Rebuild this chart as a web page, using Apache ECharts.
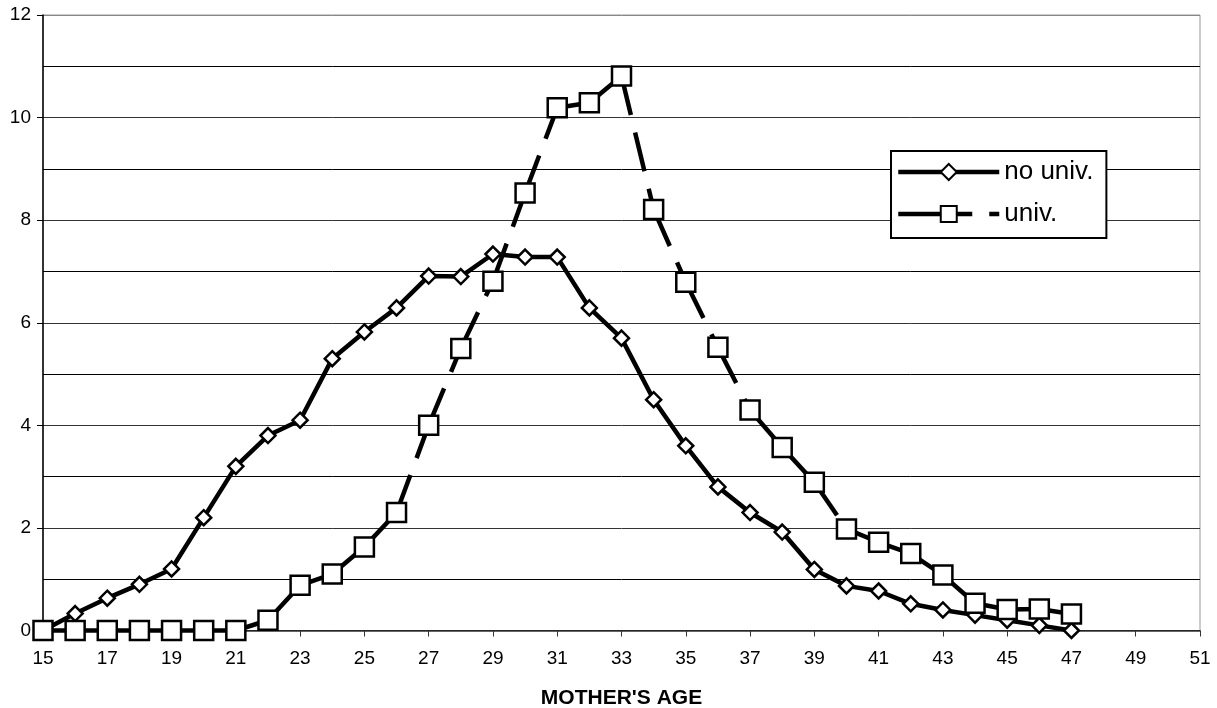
<!DOCTYPE html>
<html>
<head>
<meta charset="utf-8">
<script src="https://cdn.jsdelivr.net/npm/echarts@6/dist/echarts.min.js"></script>
<style>
html,body{margin:0;padding:0;background:#fff;}
#chart{width:1217px;height:708px;}
</style>
</head>
<body>
<div id="chart"></div>
<script>
// x-axis categories (mother's age)
var ages = ['15','16','17','18','19','20','21','22','23','24','25','26','27','28','29','30','31','32','33','34','35','36','37','38','39','40','41','42','43','44','45','46','47','48','49','50','51'];
// no university (ages 15..47)
var noUniv = [0, 0.33, 0.63, 0.9, 1.2, 2.2, 3.2, 3.8, 4.1, 5.3, 5.82, 6.29, 6.91, 6.9, 7.34, 7.28, 7.28, 6.29, 5.7, 4.5, 3.6, 2.8, 2.3, 1.92, 1.19, 0.87, 0.77, 0.52, 0.4, 0.3, 0.2, 0.1, 0];
// university (ages 15..47)
var univ = [0, 0, 0, 0, 0, 0, 0, 0.2, 0.88, 1.1, 1.63, 2.3, 4.0, 5.5, 6.81, 8.53, 10.19, 10.29, 10.81, 8.21, 6.79, 5.52, 4.3, 3.57, 2.89, 1.98, 1.72, 1.5, 1.08, 0.53, 0.41, 0.42, 0.32];
var yTicks = [0, 2, 4, 6, 8, 10, 12];

// segments for the dashed "univ." line (dash pattern restarts at each point)
var univSegments = [];
for (var i = 0; i < univ.length - 1; i++) {
  univSegments.push([i, univ[i], i + 1, univ[i + 1]]);
}

var FONT = '"Liberation Sans", Arial, sans-serif';
var LW = 4.5;
var chart = echarts.init(document.getElementById('chart'));
chart.setOption({
  animation: false,
  backgroundColor: '#fff',
  grid: {
    left: 43, right: 17, top: 15, bottom: 77.5,
    outerBoundsMode: 'none',
    containLabel: false,
    show: true, borderColor: '#999', borderWidth: 1, backgroundColor: 'transparent'
  },
  legend: {
    left: 891, top: 151,
    orient: 'vertical',
    selectedMode: false,
    itemWidth: 101, itemHeight: 20, itemGap: 16,
    padding: [8, 13, 11, 5],
    borderColor: '#000', borderWidth: 2, backgroundColor: '#fff',
    textStyle: { fontFamily: FONT, fontSize: 26, color: '#000' },
    data: [
      { name: 'no univ.', lineStyle: { width: LW, color: '#000', opacity: 1, type: 'solid' } },
      { name: 'univ.', lineStyle: { width: LW, color: '#000', opacity: 1, type: [74, 17, 10, 100] } }
    ]
  },
  xAxis: {
    type: 'category',
    data: ages,
    boundaryGap: false,
    name: "MOTHER'S AGE",
    nameLocation: 'middle',
    nameGap: 57.5,
    nameTextStyle: { fontFamily: FONT, fontSize: 21, fontWeight: 'bold', color: '#000' },
    axisLine: { lineStyle: { color: '#333', width: 1.5 } },
    axisTick: { show: true, interval: 1, length: 6, lineStyle: { color: '#333' } },
    axisLabel: { interval: 1, margin: 18.5, fontFamily: FONT, fontSize: 19, color: '#000' },
    splitLine: { show: false }
  },
  yAxis: {
    type: 'value',
    min: yTicks[0], max: yTicks[yTicks.length - 1], interval: 2,
    axisLine: { show: true, lineStyle: { color: '#000', width: 1.5 } },
    axisTick: { show: true, length: 6, lineStyle: { color: '#000' } },
    axisLabel: { margin: 12, fontFamily: FONT, fontSize: 19, color: '#000' },
    splitLine: { show: true, lineStyle: { color: ['#000', '#333', '#333', '#333', '#333', '#333', '#888'], width: 1 } },
    minorTick: { show: false, splitNumber: 2 },
    minorSplitLine: { show: true, lineStyle: { color: '#000', width: 1 } }
  },
  series: [
    {
      name: 'no univ.',
      type: 'line',
      data: noUniv,
      z: 2,
      symbol: 'diamond',
      symbolSize: 15,
      showAllSymbol: true,
      lineStyle: { color: '#000', width: LW },
      itemStyle: { color: '#fff', borderColor: '#000', borderWidth: 2.5 }
    },
    {
      name: 'univ-dash',
      type: 'custom',
      data: univSegments,
      z: 3,
      encode: { x: [0, 2], y: [1, 3] },
      renderItem: function (params, api) {
        var p0 = api.coord([api.value(0), api.value(1)]);
        var p1 = api.coord([api.value(2), api.value(3)]);
        return {
          type: 'line',
          shape: { x1: p0[0], y1: p0[1], x2: p1[0], y2: p1[1] },
          style: { stroke: '#000', lineWidth: LW, lineDash: [40, 18], lineCap: 'butt' }
        };
      }
    },
    {
      name: 'univ.',
      type: 'line',
      data: univ,
      z: 4,
      symbol: 'rect',
      symbolSize: 19,
      showAllSymbol: true,
      lineStyle: { color: '#000', width: LW, opacity: 0 },
      itemStyle: { color: '#fff', borderColor: '#000', borderWidth: 2.5 }
    }
  ]
});
</script>
</body>
</html>
